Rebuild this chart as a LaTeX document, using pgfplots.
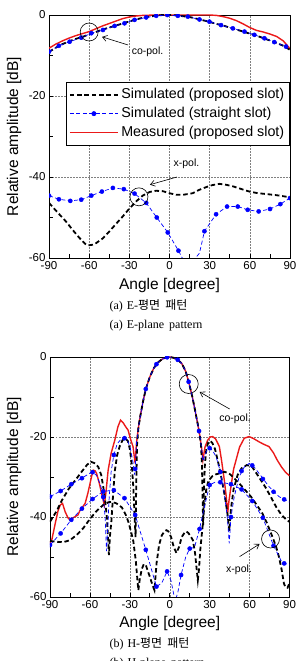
\documentclass[border=0pt]{standalone}
\usepackage{fontspec}
\setmainfont{Liberation Sans}
\newfontfamily\capserif{Liberation Serif}
\newfontfamily\krfont{Noto Sans CJK KR}
\usepackage{pgfplots}
\pgfplotsset{compat=1.18}
\usetikzlibrary{arrows.meta}

\definecolor{measred}{RGB}{235,25,25}
\definecolor{strblue}{RGB}{0,0,255}

\tikzset{
  annot/.style={line width=0.6pt},
  annotarrow/.style={line width=0.6pt, -{Straight Barb[length=4.5pt,width=6pt]}},
  annotlabel/.style={font=\fontsize{10.5}{12}\selectfont, anchor=center},
  caption/.style={anchor=base west, font=\capserif\fontsize{12}{14}\selectfont},
}

\pgfplotsset{
  simprop/.style={black, line width=1.8pt, dash pattern=on 4.5pt off 2.8pt},
  simstr/.style={strblue, line width=0.7pt, dash pattern=on 4pt off 2.5pt},
  simstrmk/.style={strblue, only marks, mark=*, mark size=2.1pt, mark options={solid}},
  meas/.style={measred, line width=1.4pt},
  pattern axis/.style={
    scale only axis,
    xmin=-90, xmax=90, ymin=-60, ymax=0,
    xtick={-90,-60,...,90}, ytick={-60,-40,-20,0},
    minor xtick={-75,-45,-15,15,45,75},
    minor ytick={-50,-30,-10},
    tick pos=left, tick align=inside,
    major tick length=4pt, minor tick length=4pt,
    tick style={black, line width=0.6pt},
    axis line style={line width=0.75pt},
    grid=major,
    major grid style={gray, line width=0.4pt, dash pattern=on 1.5pt off 1.5pt},
    ticklabel style={font=\fontsize{11.5}{13}\selectfont},
    /pgf/number format/assume math mode=true,
    xlabel={Angle [degree]},
    ylabel={Relative amplitude [dB]},
    label style={font=\fontsize{15.5}{17}\selectfont},
    clip marker paths=true,
  },
}

\begin{document}
\begin{tikzpicture}
\useasboundingbox (0pt,0pt) rectangle (298pt,661pt);
\clip (0pt,0pt) rectangle (298pt,661pt);

% ---------------- (a) E-plane ----------------
\begin{axis}[pattern axis,
  at={(49pt,403pt)}, anchor=south west, width=241pt, height=243pt,
  xlabel style={at={(axis description cs:0.5,-0.112)}, anchor=center},
  ylabel style={at={(axis description cs:-0.145,0.5)}, anchor=center},
  legend style={at={(1,0.724)}, anchor=north east, draw=black, line width=0.5pt,
    fill=white, font=\fontsize{14.3}{16}\selectfont, inner xsep=3pt, inner ysep=3pt,
    nodes={inner xsep=2.5pt, inner ysep=2.2pt, text height=11pt, text depth=3.5pt}},
  legend cell align=left,
  legend image code/.code={
    \draw[mark repeat=2, mark phase=2, #1] plot coordinates {(0pt,0pt) (24pt,0pt) (48pt,0pt)};
  },
]
\addlegendimage{simprop}
\addlegendentry{Simulated (proposed slot)}
\addlegendimage{simstr, mark=*, mark size=2.1pt, mark options={solid, fill=strblue}}
\addlegendentry{Simulated (straight slot)}
\addlegendimage{meas}
\addlegendentry{Measured (proposed slot)}

% co-polarisation
\addplot[meas, forget plot] coordinates {
 (-90,-8.2) (-85,-7.2) (-80,-6.4) (-75,-5.7) (-70,-5.1) (-65,-4.6) (-60,-4.1)
 (-55,-3.4) (-50,-2.7) (-45,-2.1) (-40,-1.5) (-35,-0.9) (-30,-0.5) (-25,-0.25)
 (-20,-0.1) (-10,0) (0,0) (10,0) (20,0) (30,0) (35,-0.1) (40,-0.4) (45,-0.8)
 (50,-1.4) (55,-2.2) (60,-3.1) (65,-3.8) (70,-4.2) (75,-4.7) (80,-5.3) (85,-6.4) (90,-8.3)};
\addplot[simprop, forget plot] coordinates {
 (-90,-9.1) (-85,-8.1) (-80,-7.2) (-75,-6.5) (-70,-5.9) (-65,-5.4) (-60,-4.8)
 (-55,-4.2) (-50,-3.6) (-45,-3.1) (-40,-2.6) (-35,-2.1) (-30,-1.6) (-25,-1.1)
 (-20,-0.7) (-15,-0.4) (-10,-0.15) (-5,0) (0,0) (5,-0.1) (10,-0.3) (15,-0.5)
 (20,-0.9) (25,-1.3) (30,-1.7) (35,-2.2) (40,-2.6) (45,-3.1) (50,-3.6) (55,-4.1)
 (60,-4.6) (65,-5.1) (70,-5.7) (75,-6.3) (80,-6.9) (85,-7.6) (90,-8.6)};
\addplot[simstr, forget plot] coordinates {
 (-90,-9.05) (-82.6,-7.6) (-74.6,-6.6) (-65.9,-5.6) (-58.4,-4.5) (-49.7,-3.7)
 (-41,-2.7) (-33.6,-2.05) (-26.1,-1.2) (-17.4,-0.6) (-9.9,-0.2) (-1.7,0) (6.2,-0.2)
 (13.7,-0.4) (22.4,-1.1) (29.8,-1.65) (38.5,-2.5) (47.3,-3.3) (56,-4.1) (63.4,-4.9)
 (70.9,-5.75) (78.3,-6.7) (87,-7.8) (90,-8.6)};
\addplot[simstrmk, forget plot] coordinates {
 (-90,-9.05) (-82.6,-7.6) (-74.6,-6.6) (-65.9,-5.6) (-58.4,-4.5) (-49.7,-3.7)
 (-41,-2.7) (-33.6,-2.05) (-26.1,-1.2) (-17.4,-0.6) (-9.9,-0.2) (-1.7,0) (6.2,-0.2)
 (13.7,-0.4) (22.4,-1.1) (29.8,-1.65) (38.5,-2.5) (47.3,-3.3) (56,-4.1) (63.4,-4.9)
 (70.9,-5.75) (78.3,-6.7) (87,-7.8)};

% cross-polarisation
\addplot[simprop, forget plot] coordinates {
 (-90,-46.4) (-84,-48.6) (-77.3,-51.0) (-72,-53.2) (-67.1,-55.1) (-63,-56.5)
 (-60.9,-56.9) (-57,-56.7) (-54.7,-56.3) (-50,-55.2) (-44.8,-53.4) (-40,-51.6)
 (-34.8,-49.7) (-30,-47.8) (-24.8,-46.0) (-20,-44.6) (-14.9,-43.7) (-10,-43.4)
 (-5,-43.5) (0,-44.0) (5,-44.4) (9.9,-44.4) (14,-44.2) (17.4,-44.0) (22,-43.2)
 (27.4,-42.5) (32,-42.0) (37.3,-41.7) (42,-41.9) (47.3,-42.3) (53,-42.9)
 (59.7,-43.6) (66,-44.0) (72.1,-44.2) (80,-44.5) (90,-45.0)};
\addplot[simstr, forget plot] coordinates {
 (-90,-44.6) (-82.6,-45.5) (-74.1,-45.9) (-65.9,-45.6) (-58.4,-44.6) (-50.5,-43.6)
 (-42.3,-42.7) (-34.1,-43.0) (-26.1,-44.1) (-17.4,-46.4) (-9.5,-50.0) (-1.3,-53.7)
 (6.7,-58.2) (10,-60.3) (14.4,-61) (18,-60.6) (22.4,-58.8) (26.1,-53.4) (34.8,-49.2)
 (43,-47.3) (51,-47.3) (58.4,-48.1) (66.6,-48.5) (75.1,-47.9) (82.8,-46.7) (90,-45.2)};
\addplot[simstrmk, forget plot] coordinates {
 (-90,-44.6) (-82.6,-45.5) (-74.1,-45.9) (-65.9,-45.6) (-58.4,-44.6) (-50.5,-43.6)
 (-42.3,-42.7) (-34.1,-43.0) (-26.1,-44.1) (-17.4,-46.4) (-9.5,-50.0) (-1.3,-53.7)
 (6.7,-58.2) (26.1,-53.4) (34.8,-49.2)
 (43,-47.3) (51,-47.3) (58.4,-48.1) (66.6,-48.5) (75.1,-47.9) (82.8,-46.7) (90,-45.2)};

\draw[annot] (axis cs:-60,-4.2) circle[radius=9pt];
\draw[annotarrow] (axis cs:-31,-7.4) -- (axis cs:-50.4,-5.4);
\node[annotlabel] at (axis cs:-16.4,-9.1) {co-pol.};
\draw[annot] (axis cs:-22.8,-44.9) circle[radius=9pt];
\draw[annotarrow] (axis cs:5.6,-40.0) -- (axis cs:-14.6,-41.9);
\node[annotlabel] at (axis cs:12.7,-36.7) {x-pol.};
\end{axis}

\node[caption] at (106pt,351pt)
  {(a)\hspace{4pt}E-{\krfont 평면}\hspace{5pt}{\krfont 패턴}};
\node[caption] at (106pt,332pt)
  {(a)\hspace{4pt}E-plane\hspace{5pt}pattern};

% ---------------- (b) H-plane ----------------
\begin{axis}[pattern axis,
  at={(50pt,64pt)}, anchor=south west, width=239.5pt, height=240pt,
  xlabel style={at={(axis description cs:0.5,-0.110)}, anchor=center},
  ylabel style={at={(axis description cs:-0.150,0.5)}, anchor=center},
]
% measured co-polarisation
\addplot[meas] coordinates {
 (-90,-46.6) (-88.5,-45.5) (-86,-41.5) (-84,-38.5) (-82.3,-37) (-80.6,-36.6)
 (-78.6,-38.7) (-76.5,-40.2) (-74.8,-40.8) (-73,-40.3) (-71.1,-39.9) (-69,-39.5)
 (-67.4,-38.3) (-65.5,-37.5) (-63.6,-36.6) (-61.5,-34) (-59.9,-31.6) (-58.5,-29.5)
 (-57.4,-28.3) (-56,-28.5) (-55,-29.1) (-53,-31.5) (-51.2,-34.1) (-49.2,-37)
 (-48,-34) (-46.3,-28.3) (-44,-24) (-41.3,-20.8) (-39,-17.5) (-37,-15.8)
 (-35.1,-16.4) (-33,-17.5) (-31.3,-18.3) (-29.5,-20.5) (-27.6,-22.4) (-26,-26.6)
 (-25,-21.5) (-23.5,-17.5) (-22,-14.5) (-20,-11) (-18,-8) (-15,-5) (-12,-2.8)
 (-9,-1.4) (-6,-0.6) (-3,-0.15) (0,0) (3,-0.2) (6,-0.7) (9,-1.6) (12,-3.6)
 (14.2,-6.2) (17,-10) (19,-13.3) (21,-16.7) (22.5,-19.5) (24,-23) (24.9,-25.8)
 (26.5,-22.5) (28.5,-20.8) (30.3,-20) (32.3,-19.9) (34.5,-20.5) (37.3,-22.4)
 (39,-26) (41,-30.8) (42.5,-35) (43.5,-39.1) (44.5,-36) (46,-32.4) (48,-28)
 (49.8,-25.8) (52.5,-22.5) (56,-20.3) (59.7,-19.9) (63,-20.4) (67.1,-21.2)
 (70.5,-21.8) (74.6,-22.4) (78,-24) (80.8,-25.8) (84,-27.5) (87,-28.8) (90,-29.7)};

% simulated co-polarisation, proposed slot
\addplot[simprop] coordinates {
 (-90,-41.2) (-85,-38.5) (-81,-35.8) (-76,-33) (-71,-30.8) (-66,-28.6) (-62,-26.9)
 (-59.2,-26.2) (-56,-26.6) (-53.7,-27.5) (-51.5,-29.5) (-50,-32.4) (-48.5,-36)
 (-47.3,-40) (-46.4,-45) (-45.7,-49.5) (-45,-45) (-43.8,-40.8) (-42.5,-34)
 (-41.3,-28.5) (-39.5,-24.5) (-37.5,-22.2) (-35.5,-20.8) (-33.6,-20.3) (-31.5,-21)
 (-30,-23) (-28.5,-27) (-27.3,-33) (-26.4,-40) (-25.7,-45) (-25.2,-32) (-24.6,-22)
 (-23.5,-17.5) (-22,-14.5) (-20,-11) (-18,-8) (-15,-5) (-12,-2.8) (-9,-1.4)
 (-6,-0.6) (-3,-0.15) (0,0) (3,-0.2) (6,-0.7) (9,-1.6) (12,-3.6) (14.2,-6.2)
 (17,-10) (19,-13.3) (21,-16.7) (22.5,-19.5) (23.5,-22) (24.2,-27) (24.7,-35)
 (25.1,-42) (25.6,-34) (26.4,-27) (27.5,-23) (29,-21.3) (30.5,-21) (32,-21.5)
 (34,-23) (36.5,-26.5) (39,-30.5) (41.5,-35) (43.5,-39.5) (44.7,-43.5) (46,-38)
 (48,-33) (51,-29.5) (54,-27.8) (58,-27) (62,-27.5) (66,-29.5) (72,-32.6)
 (76,-35) (80,-37.5) (84,-39.5) (88,-40.8) (90,-41.2)};

% simulated cross-polarisation, proposed slot
\addplot[simprop] coordinates {
 (-90,-46) (-85,-46.2) (-80,-46.3) (-75,-45.8) (-70,-44.5) (-65,-42.8) (-60,-40.5)
 (-55,-38.5) (-50,-37) (-46,-36.3) (-43.5,-36.2) (-40,-36.6) (-36,-37.6) (-33,-39.5)
 (-31,-41.3) (-29,-43.8) (-27.4,-46) (-25.5,-51) (-24.5,-55) (-23.6,-58.3)
 (-22.5,-55.5) (-21,-53) (-19.5,-51.8) (-18,-52) (-16.5,-53.5) (-14.9,-55)
 (-13,-57) (-11.5,-58.3) (-9.9,-51.5) (-8,-47) (-6,-44.6) (-4,-43.6) (-2.5,-43.3)
 (-1,-43.6) (1,-45) (3,-47.5) (5,-49) (7,-47.5) (9,-45) (11,-44) (12.4,-43.6)
 (14,-44) (16,-45) (17.4,-45.8) (19,-49) (20.2,-53) (21.1,-55.8) (22,-53)
 (23,-48) (24.9,-41.6) (26,-37) (27.4,-33.2) (29,-31) (32,-29.8) (35,-29.3)
 (38.5,-29) (41,-28.7) (44,-29) (46,-29.5) (49,-30.5) (52.2,-31.6) (56,-33)
 (61,-34.9) (65,-36.8) (69.6,-39.1) (73,-41.5) (77.1,-44.9) (80,-47.5) (82.1,-50)
 (84,-53) (85.8,-56.6) (87,-57.6) (88.5,-57.7) (90,-56.5)};

% simulated co-polarisation, straight slot
\addplot[simstr] coordinates {
 (-90,-34.9) (-82,-33.5) (-74,-31.8) (-66,-30.3) (-58.5,-28.7) (-55,-29.6) (-52,-32)
 (-50,-35) (-48.6,-40) (-47.5,-48.5) (-46.5,-42) (-45.5,-35) (-44,-28.5) (-42,-24.5)
 (-39.5,-21.7) (-36.5,-20.5) (-33.6,-20.3) (-31.5,-21) (-29.5,-23) (-27.5,-26.5)
 (-26.3,-29.5) (-25.5,-25) (-25,-21.5) (-23.5,-17.5) (-22,-14.5) (-20,-11) (-18,-8)
 (-15,-5) (-12,-2.8) (-9,-1.4) (-6,-0.6) (-3,-0.15) (0,0) (3,-0.2) (6,-0.7) (9,-1.6)
 (12,-3.6) (14.2,-6.2) (17,-10) (19,-13.3) (21,-16.7) (22.5,-19.5) (24,-23) (25,-26)
 (26.1,-24.9) (28,-23.3) (29.8,-22.8) (32,-23.3) (34.8,-24.9) (37.5,-28) (40,-32)
 (42.3,-37.4) (43.5,-41) (44.7,-46.6) (46,-40) (48.5,-34.9) (52.2,-29.9) (56,-27.5)
 (59.7,-26.6) (63,-27.3) (67.1,-29.1) (74.6,-32.4) (82.1,-34.9) (90,-36.3)};
\addplot[simstrmk] coordinates {
 (-90,-34.9) (-82,-33.5) (-74,-31.8) (-66,-30.3) (-58,-28.8) (-50,-35) (-42,-24.5)
 (-34,-20.3) (-26,-28) (-18,-8) (-10,-1.8) (-2,-0.07) (6,-0.7) (14.2,-6.2)
 (22,-18.5) (30,-22.8) (38,-28.7) (46,-40) (54,-28.5) (62,-27.1) (70,-30.5)
 (78,-33.7) (86,-35.6)};

% simulated cross-polarisation, straight slot
\addplot[simstr] coordinates {
 (-90,-47) (-82,-44.1) (-74,-40.7) (-66,-37.9) (-58,-35.5) (-50,-33.6) (-42,-33.3)
 (-34,-35.3) (-26,-39.5) (-18,-48.2) (-10,-57.4) (-6,-56.5) (-2,-53.6) (1,-56)
 (4,-61) (6,-59) (8.5,-54.5) (12,-50) (15,-47.9) (18.6,-47.6) (22.4,-43) (26,-37.5)
 (30,-32) (34,-31.3) (39.8,-31.4) (46,-31.8) (54,-33.1) (62,-36) (70,-40.2)
 (78,-47.2) (84.5,-51.4) (90,-52)};
\addplot[simstrmk] coordinates {
 (-90,-47) (-82,-44.1) (-74,-40.7) (-66,-37.9) (-58,-35.5) (-50,-33.6) (-42,-33.3)
 (-34,-35.3) (-26,-39.5) (-18,-48.2) (-10,-57.4) (-2,-53.6) (8.5,-54.5) (15,-47.9)
 (22.4,-43) (30,-32) (38,-31.3) (46,-31.8) (54,-33.1) (62,-36) (70,-40.2)
 (78,-47.2) (86,-51.6)};

\draw[annot] (axis cs:14.25,-6.75) circle[radius=9.5pt];
\draw[annotarrow] (axis cs:45,-13) -- (axis cs:22.5,-8.75);
\node[annotlabel] at (axis cs:49.1,-15.5) {co-pol.};
\draw[annot] (axis cs:75.75,-45.5) circle[radius=9pt];
\draw[annotarrow] (axis cs:52.5,-49.9) -- (axis cs:67.5,-46.75);
\node[annotlabel] at (axis cs:52.1,-53.1) {x-pol.};
\end{axis}

\node[caption] at (106pt,13.3pt)
  {(b)\hspace{4pt}H-{\krfont 평면}\hspace{5pt}{\krfont 패턴}};
\node[caption] at (106pt,-5.7pt)
  {(b)\hspace{4pt}H-plane\hspace{5pt}pattern};
\end{tikzpicture}
\end{document}
